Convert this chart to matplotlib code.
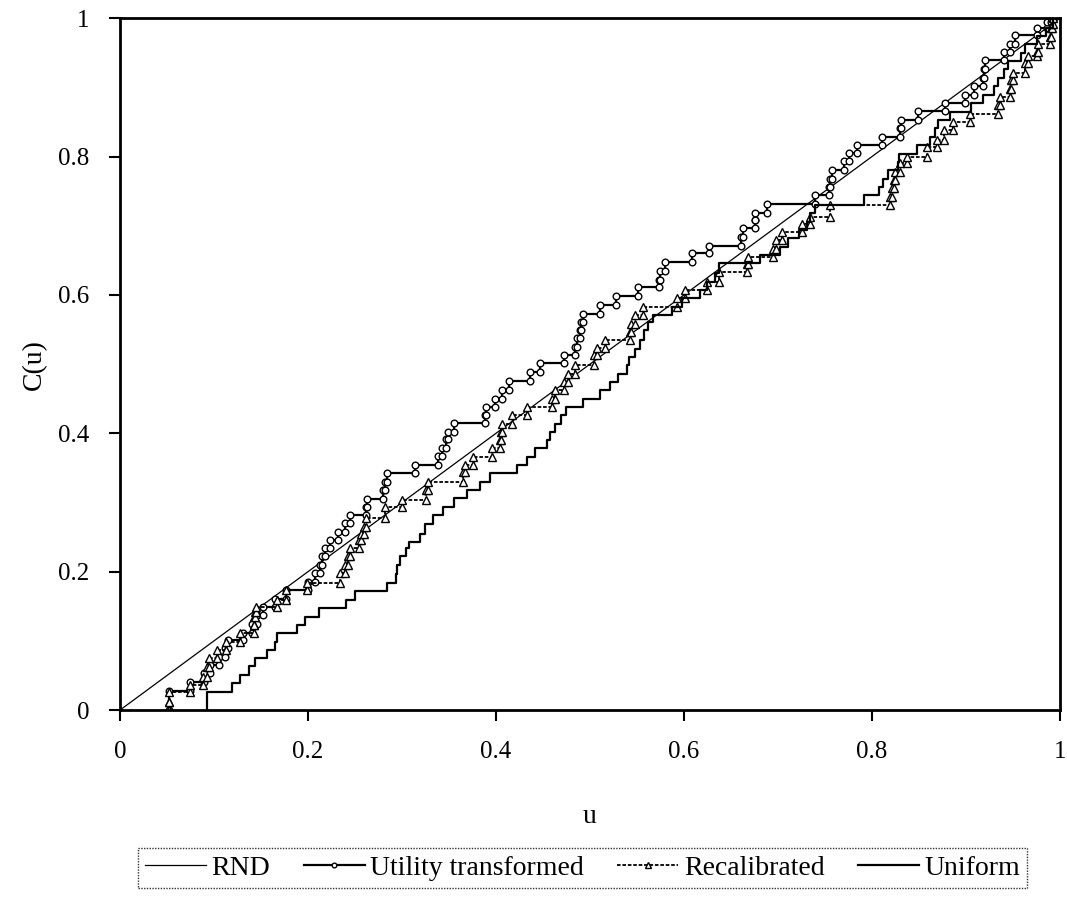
import numpy as np
import matplotlib.pyplot as plt

plt.rcParams['font.family'] = ['Liberation Serif', 'DejaVu Serif']

# step data: x where the step occurs, y level after the step
util_x = [0.052, 0.074, 0.089, 0.096, 0.105, 0.112, 0.115, 0.131, 0.140, 0.146,
          0.152, 0.165, 0.177, 0.200, 0.207, 0.213, 0.215, 0.218, 0.223, 0.232,
          0.239, 0.245, 0.262, 0.263, 0.280, 0.282, 0.284, 0.314, 0.338, 0.343,
          0.347, 0.349, 0.355, 0.388, 0.389, 0.399, 0.406, 0.414, 0.436, 0.447,
          0.472, 0.484, 0.486, 0.489, 0.490, 0.493, 0.511, 0.528, 0.551, 0.573,
          0.574, 0.580, 0.608, 0.627, 0.661, 0.663, 0.675, 0.676, 0.688, 0.739,
          0.754, 0.755, 0.757, 0.770, 0.775, 0.784, 0.811, 0.830, 0.831, 0.849,
          0.878, 0.899, 0.908, 0.918, 0.919, 0.920, 0.940, 0.947, 0.952, 0.975,
          0.986, 0.990]
util_y = [0.028, 0.041, 0.053, 0.065, 0.077, 0.089, 0.101, 0.111, 0.124, 0.137,
          0.149, 0.161, 0.173, 0.185, 0.198, 0.210, 0.223, 0.234, 0.246, 0.258,
          0.270, 0.282, 0.294, 0.305, 0.318, 0.330, 0.342, 0.354, 0.367, 0.379,
          0.391, 0.402, 0.415, 0.427, 0.438, 0.450, 0.463, 0.476, 0.489, 0.501,
          0.513, 0.525, 0.537, 0.549, 0.561, 0.573, 0.585, 0.598, 0.611, 0.622,
          0.634, 0.648, 0.660, 0.671, 0.684, 0.696, 0.708, 0.719, 0.731, 0.744,
          0.756, 0.768, 0.780, 0.793, 0.805, 0.816, 0.828, 0.841, 0.853, 0.866,
          0.878, 0.889, 0.902, 0.914, 0.926, 0.939, 0.951, 0.963, 0.975, 0.986,
          0.995, 1.000]

recal_x = [0.052, 0.052, 0.074, 0.088, 0.092, 0.095, 0.103, 0.113, 0.128, 0.142,
           0.143, 0.144, 0.145, 0.167, 0.177, 0.199, 0.234, 0.239, 0.243, 0.245,
           0.254, 0.256, 0.259, 0.262, 0.282, 0.300, 0.326, 0.328, 0.365, 0.367,
           0.376, 0.396, 0.404, 0.405, 0.406, 0.417, 0.433, 0.459, 0.463, 0.472,
           0.477, 0.484, 0.504, 0.507, 0.516, 0.543, 0.544, 0.548, 0.556, 0.592,
           0.601, 0.624, 0.637, 0.667, 0.668, 0.695, 0.698, 0.704, 0.725, 0.734,
           0.755, 0.819, 0.821, 0.823, 0.824, 0.830, 0.837, 0.858, 0.869, 0.876,
           0.886, 0.904, 0.934, 0.936, 0.947, 0.948, 0.950, 0.963, 0.966, 0.975,
           0.977, 0.989, 0.990, 0.991, 0.993]
recal_y = [0.012, 0.026, 0.036, 0.048, 0.062, 0.075, 0.087, 0.099, 0.111, 0.123,
           0.135, 0.142, 0.149, 0.159, 0.173, 0.184, 0.198, 0.210, 0.222, 0.234,
           0.246, 0.255, 0.265, 0.277, 0.294, 0.303, 0.318, 0.330, 0.344, 0.354,
           0.366, 0.378, 0.390, 0.402, 0.414, 0.426, 0.438, 0.450, 0.462, 0.474,
           0.486, 0.498, 0.513, 0.523, 0.535, 0.547, 0.558, 0.571, 0.583, 0.595,
           0.607, 0.619, 0.633, 0.645, 0.655, 0.667, 0.679, 0.691, 0.703, 0.713,
           0.730, 0.742, 0.754, 0.766, 0.778, 0.790, 0.800, 0.814, 0.824, 0.838,
           0.850, 0.862, 0.874, 0.886, 0.898, 0.910, 0.920, 0.935, 0.945, 0.951,
           0.963, 0.973, 0.985, 0.992, 1.000]

unif_x = [0.093, 0.093, 0.119, 0.128, 0.137, 0.144, 0.156, 0.165, 0.167, 0.188,
          0.197, 0.212, 0.240, 0.250, 0.284, 0.294, 0.295, 0.298, 0.304, 0.307,
          0.319, 0.324, 0.333, 0.344, 0.355, 0.369, 0.383, 0.394, 0.422, 0.433,
          0.441, 0.454, 0.457, 0.463, 0.469, 0.474, 0.492, 0.511, 0.521, 0.530,
          0.539, 0.541, 0.548, 0.553, 0.557, 0.562, 0.567, 0.587, 0.598, 0.617,
          0.624, 0.633, 0.637, 0.681, 0.702, 0.711, 0.722, 0.731, 0.734, 0.739,
          0.791, 0.807, 0.812, 0.817, 0.828, 0.829, 0.848, 0.862, 0.867, 0.870,
          0.883, 0.905, 0.918, 0.930, 0.934, 0.940, 0.945, 0.958, 0.963, 0.975,
          0.985, 0.992]
unif_y = [0.013, 0.026, 0.039, 0.051, 0.063, 0.075, 0.087, 0.099, 0.111, 0.123,
          0.135, 0.147, 0.159, 0.172, 0.184, 0.197, 0.210, 0.222, 0.234, 0.243,
          0.255, 0.269, 0.282, 0.294, 0.306, 0.318, 0.330, 0.342, 0.354, 0.366,
          0.378, 0.390, 0.402, 0.414, 0.426, 0.438, 0.450, 0.462, 0.474, 0.486,
          0.498, 0.510, 0.522, 0.535, 0.549, 0.561, 0.571, 0.583, 0.595, 0.607,
          0.619, 0.631, 0.646, 0.658, 0.669, 0.682, 0.694, 0.706, 0.718, 0.730,
          0.744, 0.756, 0.768, 0.780, 0.792, 0.804, 0.816, 0.828, 0.841, 0.853,
          0.865, 0.877, 0.889, 0.902, 0.914, 0.926, 0.938, 0.950, 0.962, 0.974,
          0.986, 1.000]

ticks = [0, 0.2, 0.4, 0.6, 0.8, 1]
tick_labels = ['0', '0.2', '0.4', '0.6', '0.8', '1']


def corners(xs, ys):
    # every step drawn as two points: before and after the jump
    px, py = [], []
    prev = 0.0
    for x, y in zip(xs, ys):
        px += [x, x]
        py += [prev, y]
        prev = y
    return np.array(px), np.array(py)


fig = plt.figure(figsize=(10.67, 9.06), dpi=100)
ax = fig.add_axes([0.1125, 0.2163, 0.881, 0.7637])

ax.plot([0, 1], [0, 1], color='black', lw=0.9, label='RND')

ux, uy = corners(util_x, util_y)
ax.plot(ux, uy, color='black', lw=1.6, marker='o', ms=4.8, mfc='white',
        mec='black', mew=1.0, label='Utility transformed')

rx, ry = corners(recal_x, recal_y)
ax.plot(rx, ry, color='black', lw=1.3, ls=(0, (2, 1)), marker='^', ms=5.6,
        mfc='white', mec='black', mew=1.0, label='Recalibrated')

nx, ny = corners(unif_x, unif_y)
ax.plot(nx, ny, color='black', lw=1.6, label='Uniform')

ax.set_xlim(0, 1)
ax.set_ylim(0, 1)
ax.set_xticks(ticks)
ax.set_xticklabels(tick_labels)
ax.set_yticks(ticks)
ax.set_yticklabels(tick_labels)
ax.tick_params(direction='out', length=8, width=1.5, labelsize=18, pad=14)
for s in ax.spines.values():
    s.set_linewidth(2)

ax.set_xlabel('u', fontsize=20, labelpad=30)
ax.set_ylabel('C(u)', fontsize=20, labelpad=8)

leg = fig.legend(loc='center', bbox_to_anchor=(0.546, 0.042), ncol=4,
                 fontsize=20, numpoints=1, markerscale=0.7, handlelength=2.2,
                 handletextpad=0.2, columnspacing=1.2, fancybox=False,
                 borderpad=0.25)
leg.get_frame().set_edgecolor('black')
leg.get_frame().set_linestyle((0, (1, 1)))
leg.get_frame().set_linewidth(1.0)

fig.savefig('out.png', dpi=100)
